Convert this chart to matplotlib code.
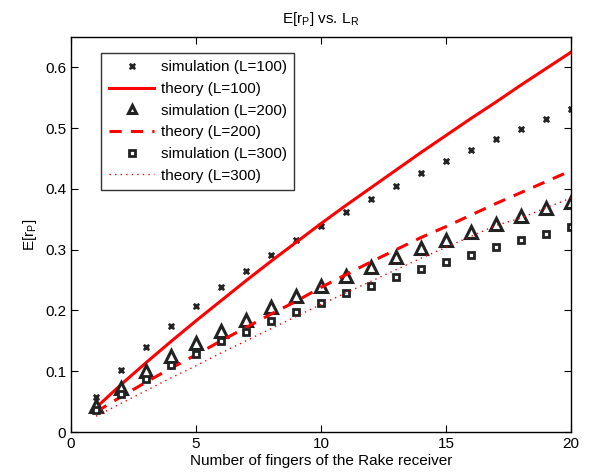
import matplotlib
matplotlib.use('Agg')
import matplotlib.pyplot as plt
from matplotlib.lines import Line2D

plt.rcParams['font.family'] = ['Liberation Sans', 'DejaVu Sans']
plt.rcParams['mathtext.fontset'] = 'custom'
plt.rcParams['mathtext.rm'] = 'Liberation Sans'

# number of Rake fingers
fingers = list(range(1, 21))

# simulation results
sim_100 = [0.057, 0.102, 0.140, 0.175, 0.207, 0.238, 0.265, 0.291, 0.316, 0.339,
           0.362, 0.383, 0.405, 0.426, 0.446, 0.464, 0.482, 0.499, 0.515, 0.531]
sim_200 = [0.043, 0.072, 0.100, 0.125, 0.147, 0.167, 0.185, 0.206, 0.224, 0.240,
           0.257, 0.272, 0.288, 0.302, 0.316, 0.329, 0.342, 0.356, 0.368, 0.379]
sim_300 = [0.036, 0.063, 0.087, 0.110, 0.129, 0.149, 0.165, 0.183, 0.198, 0.213,
           0.228, 0.241, 0.255, 0.268, 0.280, 0.292, 0.304, 0.316, 0.326, 0.338]

# theory curves
theory_100 = [0.040, 0.078, 0.114, 0.149, 0.183, 0.216, 0.249, 0.281, 0.312, 0.343,
              0.373, 0.402, 0.431, 0.460, 0.488, 0.516, 0.543, 0.571, 0.598, 0.625]
theory_200 = [0.033, 0.058, 0.082, 0.105, 0.127, 0.150, 0.172, 0.194, 0.215, 0.238,
              0.259, 0.280, 0.300, 0.320, 0.338, 0.357, 0.376, 0.394, 0.412, 0.430]
theory_300 = [0.026, 0.047, 0.068, 0.089, 0.109, 0.130, 0.150, 0.170, 0.190, 0.210,
              0.229, 0.248, 0.267, 0.286, 0.304, 0.322, 0.340, 0.352, 0.369, 0.385]

labels = ['simulation (L=100)', 'theory (L=100)', 'simulation (L=200)',
          'theory (L=200)', 'simulation (L=300)', 'theory (L=300)']

fig = plt.figure(figsize=(5.93, 4.74), dpi=100)
ax = fig.add_axes([71 / 593, 42 / 474, 500 / 593, 395 / 474])

dark = '#222222'
x_style = dict(linestyle='none', marker='X', color=dark, markeredgewidth=0.5)
tri_style = dict(linestyle='none', marker='^', markerfacecolor='white',
                 markeredgecolor=dark, markeredgewidth=2.2)
sq_style = dict(linestyle='none', marker='s', markerfacecolor='white',
                markeredgecolor=dark, markeredgewidth=2.0)
solid = dict(color='red', linewidth=2.2)
dashed = dict(color='red', linewidth=2.2, linestyle=(0, (4, 3)))
dotted = dict(color='red', linewidth=1.0, linestyle=(0, (1, 3)))

ax.plot(fingers, sim_100, markersize=5, **x_style)
ax.plot(fingers, theory_100, **solid)
ax.plot(fingers, sim_200, markersize=8, **tri_style)
ax.plot(fingers, theory_200, **dashed)
ax.plot(fingers, sim_300, markersize=5, **sq_style)
ax.plot(fingers, theory_300, **dotted)

ax.set_xlim(0, 20)
ax.set_ylim(0, 0.65)
ax.set_xticks([0, 5, 10, 15, 20])
ax.set_yticks([0, 0.1, 0.2, 0.3, 0.4, 0.5, 0.6])
ax.set_yticklabels(['0', '0.1', '0.2', '0.3', '0.4', '0.5', '0.6'])
ax.tick_params(direction='in', top=True, right=True, labelsize=11, length=5)
for s in ax.spines.values():
    s.set_linewidth(1.0)

ax.set_title(r'E[r$_\mathrm{P}$] vs. L$_\mathrm{R}$', fontsize=11, pad=10)
ax.set_xlabel('Number of fingers of the Rake receiver', fontsize=11, labelpad=2)
ax.set_ylabel(r'E[r$_\mathrm{P}$]', fontsize=11)

# legend keys with smaller symbols, as in the original
handles = [Line2D([], [], markersize=4.5, **x_style),
           Line2D([], [], **solid),
           Line2D([], [], markersize=6, **tri_style),
           Line2D([], [], **dashed),
           Line2D([], [], markersize=4.5, **sq_style),
           Line2D([], [], **dotted)]
leg = ax.legend(handles, labels, loc='upper left', bbox_to_anchor=(0.06, 0.96),
                borderaxespad=0, fontsize=11, frameon=True, fancybox=False,
                edgecolor='black', handlelength=3.0, borderpad=0.5,
                labelspacing=0.5, handletextpad=0.4)
leg.get_frame().set_linewidth(1.0)

fig.savefig('out.png', dpi=100)
